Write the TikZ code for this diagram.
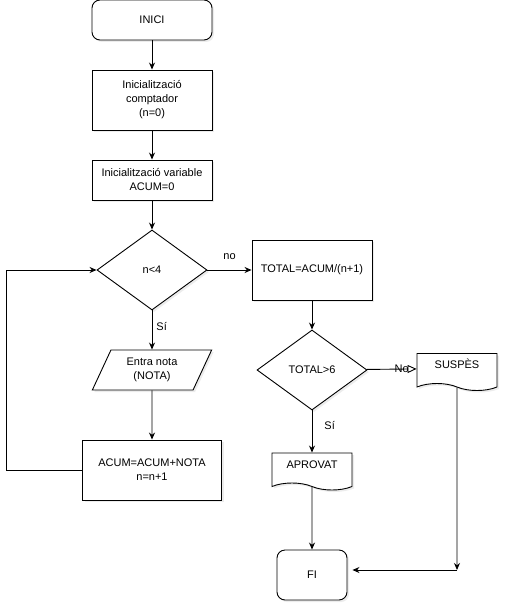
\documentclass[tikz,border=0pt]{standalone}
\usepackage{fontspec}
\setmainfont{Liberation Sans}
\usetikzlibrary{positioning,shapes.geometric,shapes.symbols,arrows.meta,shadows}
\begin{document}
\begin{tikzpicture}[x=1pt,y=1pt,line width=0.9pt,node distance=80pt,>={Stealth[length=7pt,width=6pt]},
    every node/.style={font=\fontsize{11}{14}\selectfont,inner sep=2pt},
    shade/.style={drop shadow={opacity=0.15,shadow xshift=2pt,shadow yshift=-2pt}},
    term/.style={rectangle,rounded corners=8pt,draw,fill=white,shade,align=center},
    proc/.style={rectangle,draw,fill=white,shade,align=center,minimum width=120pt},
    dec/.style={diamond,draw,fill=white,shade,aspect=1.375,minimum width=110pt,minimum height=80pt},
    inout/.style={trapezium,trapezium left angle=66,trapezium right angle=114,trapezium stretches=true,
      draw,fill=white,shade,align=center,minimum width=120pt,minimum height=40pt},
    doc/.style={tape,tape bend top=none,tape bend bottom=out and in,tape bend height=7pt,
      draw,fill=white,shade,minimum width=80pt,minimum height=37pt,text height=10pt,text depth=10pt}]
      \useasboundingbox (0,0) rectangle (509,-612);
      \node (0) [term,minimum width=120pt,minimum height=40pt] at (152,-20) {INICI};
      \node (1) [proc,minimum height=60pt,below of=0] {Inicialització\\comptador\\(n=0)};
      \node (2) [proc,minimum height=40pt,below of=1] {Inicialització variable\\ACUM=0};
      \node (3) [dec,below of=2,yshift=-10pt] {n<4};
      \node (4) [inout,below of=3,yshift=-20pt] {Entra nota\\(NOTA)};
      \node (5) [proc,minimum width=139pt,minimum height=60pt,below of=4,yshift=-20pt] {ACUM=ACUM+NOTA\\n=n+1};
      \node (6) [proc,minimum height=60pt,right of=3,xshift=80pt] {TOTAL=ACUM/(n+1)};
      \node (7) [dec,below of=6,yshift=-20pt] {TOTAL>6};
      \node (8) [doc,right of=7,xshift=65pt,yshift=1.5pt] {SUSPÈS};
      \node (9) [doc,below of=7,yshift=-18pt] {APROVAT};
      \node (10) [term,minimum width=70pt,minimum height=50pt,below of=9,yshift=-27pt] {FI};
      \coordinate[yshift=5pt] (j) at (8 |- 10);
      \draw [->] (0) -- (1);
      \draw [->] (1) -- (2);
      \draw [->] (2) -- (3);
      \draw [->] (3) -- (4) node [right=2pt,pos=0.4] {Sí};
      \draw [->] (3) -- (6) node [above=8pt,midway] {no};
      \draw [->] (4) -- (5);
      \draw [->] (5.west) -- ++(-76,0) |- (3.west);
      \draw [->] (6) -- (7);
      \draw [-{Triangle[open,length=9pt,width=8pt]}] (7) -- (8) node [pos=0.7] {No};
      \draw [->] (7) -- (9) node [right=10pt,pos=0.35] {Sí};
      \draw [->] (9) -- (10);
      \draw [->] (8) -- (j);
      \draw [->,shorten >=5pt] (j) -- (j -| 10.east);
  \end{tikzpicture}
\end{document}
